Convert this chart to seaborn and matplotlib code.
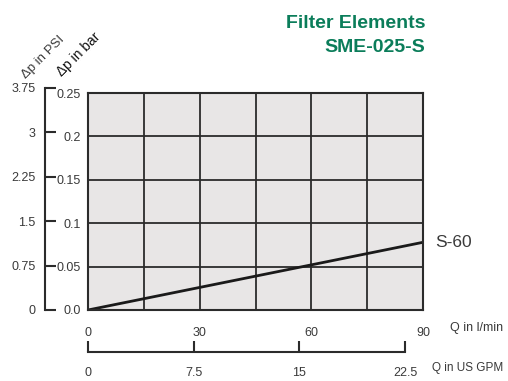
import matplotlib
matplotlib.use("Agg")
import matplotlib.pyplot as plt
import seaborn as sns
import pandas as pd

# Data
flow_lpm = [0, 90]
dp_bar = [0.0, 0.078]
series_name = "S-60"

bar_ticks = [0.0, 0.05, 0.1, 0.15, 0.2, 0.25]
bar_labels = ["0.0", "0.05", "0.1", "0.15", "0.2", "0.25"]
psi_ticks = [0, 0.75, 1.5, 2.25, 3, 3.75]
psi_labels = ["0", "0.75", "1.5", "2.25", "3", "3.75"]
lpm_ticks = [0, 15, 30, 45, 60, 75, 90]
lpm_labels = ["0", "", "30", "", "60", "", "90"]
gpm_ticks = [0, 7.5, 15, 22.5]
gpm_labels = ["0", "7.5", "15", "22.5"]

sns.set_style("white")
plt.rcParams["font.family"] = ["Liberation Sans", "DejaVu Sans"]

dark = "#2b2b2b"
txt = "#3a3a3a"
green = "#0b7d5a"

W, H = 508, 381
fig = plt.figure(figsize=(W / 100, H / 100), dpi=100)

def box(x0, y0, x1, y1):
    return [x0 / W, 1 - y1 / H, (x1 - x0) / W, (y1 - y0) / H]

# main chart
ax = fig.add_axes(box(88, 93, 423, 310))
df = pd.DataFrame({"flow": flow_lpm, "dp": dp_bar})
sns.lineplot(data=df, x="flow", y="dp", ax=ax, color="#1a1a1a", lw=2)
ax.set_facecolor("#e8e6e6")
ax.set_xlim(0, 90)
ax.set_ylim(0, 0.25)
ax.set_xticks(lpm_ticks)
ax.set_xticklabels(lpm_labels)
ax.set_yticks(bar_ticks)
ax.set_yticklabels(bar_labels)
ax.grid(True, color=dark, lw=1.3)
ax.tick_params(length=0, labelsize=9, colors=txt)
ax.tick_params(axis="x", pad=12)
ax.tick_params(axis="y", pad=5)
ax.set_xlabel("")
ax.set_ylabel("")
for s in ax.spines.values():
    s.set_color(dark)
    s.set_linewidth(1.5)
ax.text(1.035, dp_bar[-1], series_name, transform=ax.get_yaxis_transform(),
        fontsize=12.5, color=txt, va="center", ha="left")
fig.text(503 / W, 1 - 328 / H, "Q in l/min", fontsize=9, color=txt,
         va="center", ha="right")

# PSI axis
ax2 = fig.add_axes(box(45, 88, 46, 310))
ax2.set_ylim(0, 3.75)
ax2.set_yticks(psi_ticks)
ax2.set_yticklabels(psi_labels)
ax2.set_xticks([])
ax2.patch.set_visible(False)
for k in ["top", "right", "bottom"]:
    ax2.spines[k].set_visible(False)
ax2.spines["left"].set_color(dark)
ax2.spines["left"].set_linewidth(1.5)
ax2.tick_params(axis="y", left=True, direction="in", length=8, width=1.5,
                color=dark, labelsize=9, labelcolor=txt, pad=7)

# GPM axis
ax3 = fig.add_axes(box(88, 351, 405, 352))
ax3.set_xlim(0, 22.5)
ax3.set_xticks(gpm_ticks)
ax3.set_xticklabels(gpm_labels)
ax3.set_yticks([])
ax3.patch.set_visible(False)
for k in ["top", "right", "left"]:
    ax3.spines[k].set_visible(False)
ax3.spines["bottom"].set_color(dark)
ax3.spines["bottom"].set_linewidth(1.5)
ax3.tick_params(axis="x", bottom=True, direction="in", length=8, width=1.5,
                color=dark, labelsize=9, labelcolor=txt, pad=11)
fig.text(503 / W, 1 - 368 / H, "Q in US GPM", fontsize=8.5, color=txt,
         va="center", ha="right")

# rotated axis titles
fig.text(43 / W, 1 - 57 / H, "Δp in PSI", rotation=45, fontsize=9.5,
         color=txt, va="center", ha="center")
fig.text(79 / W, 1 - 54 / H, "Δp in bar", rotation=45, fontsize=10,
         color="#111111", va="center", ha="center")

# title
fig.text(425 / W, 1 - 23 / H, "Filter Elements", fontsize=14, color=green,
         fontweight="bold", ha="right", va="center")
fig.text(425 / W, 1 - 48 / H, "SME-025-S", fontsize=14, color=green,
         fontweight="bold", ha="right", va="center")

fig.savefig("out.png", dpi=100)
